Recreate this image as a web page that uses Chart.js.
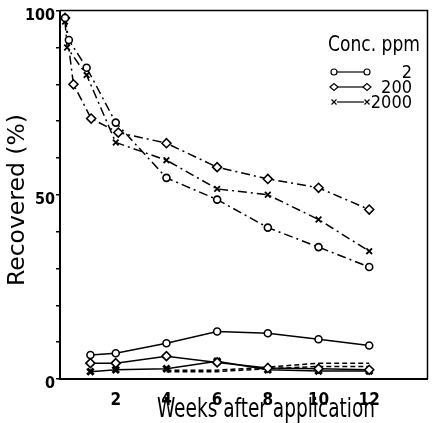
<!DOCTYPE html>
<html>
<head>
<meta charset="utf-8">
<script src="https://cdn.jsdelivr.net/npm/chart.js@4/dist/chart.umd.min.js"></script>
<style>
  html, body { margin: 0; padding: 0; background: #fff; }
  #wrap { width: 435px; height: 423px; }
</style>
</head>
<body>
<div id="wrap"><canvas id="recoveryChart"></canvas></div>
<script>
// concentrations (legend)
const concLabels = ['2', '200', '2000'];

// upper curves: extractable residue, % recovered
const upperWeeks2 = [0, 0.15, 0.85, 2, 4, 6, 8, 10, 12];
const upper2 = [98, 92, 84.5, 69.6, 54.6, 48.7, 41.1, 35.8, 30.4];
const upperWeeks200 = [0, 0.33, 1.03, 2.1, 4, 6, 8, 10, 12];
const upper200 = [98, 80, 70.7, 66.9, 64, 57.5, 54.3, 51.9, 46];
const upperWeeks2000 = [0, 0.08, 0.85, 2, 4, 6, 8, 10, 12];
const upper2000 = [97, 90, 82.5, 64.2, 59.4, 51.6, 50, 43.3, 34.7];

// lower curves
const lowerWeeks = [1, 2, 4, 6, 8, 10, 12];
const lower2 = [6.5, 7, 9.7, 12.9, 12.4, 10.8, 9.1];
const lower200 = [4.3, 4.3, 6.2, 4.5, 3, 2.8, 2.5];
const lower2000 = [2, 2.5, 2.8, 4.8, 2.5, 2.2, 2.2];
const dashedWeeks = [4, 6, 8, 10, 12];
const dashedA = [2.4, 2.4, 3.2, 4.3, 4.3];
const dashedB = [2, 2, 2.8, 3.4, 3.4];

// axis ticks
const xTickValues = [2, 4, 6, 8, 10, 12];
const yTickLabels = [0, 50, 100];

const pts = (xs, ys) => xs.map((x, i) => ({ x: x, y: ys[i] }));

const dashDot = [9, 4, 2, 4];
const narrow = '"Liberation Sans Narrow", "DejaVu Sans Condensed", sans-serif';

function series(data, style, dash, radius, width) {
    return {
        data: data,
        showLine: true,
        borderColor: '#000',
        borderWidth: 1.5,
        borderDash: dash,
        pointStyle: style,
        pointRadius: radius,
        pointBorderWidth: width,
        pointBorderColor: '#000',
        pointBackgroundColor: '#fff',
        tension: 0
    };
}

// write text squeezed/stretched to a given width
function fitText(ctx, text, x, y, width, font, rotate) {
    ctx.save();
    ctx.font = font;
    ctx.textBaseline = 'middle';
    ctx.textAlign = 'center';
    const w = ctx.measureText(text).width;
    ctx.translate(x, y);
    if (rotate) ctx.rotate(-Math.PI / 2);
    ctx.scale(width / w, 1);
    ctx.fillText(text, 0, 0);
    ctx.restore();
}

function symbol(ctx, kind, x, y) {
    ctx.beginPath();
    if (kind === 'circle') {
        ctx.arc(x, y, 3, 0, Math.PI * 2);
        ctx.fillStyle = '#fff';
        ctx.fill();
    } else if (kind === 'diamond') {
        ctx.moveTo(x - 4, y); ctx.lineTo(x, y - 3.5); ctx.lineTo(x + 4, y); ctx.lineTo(x, y + 3.5); ctx.closePath();
        ctx.fillStyle = '#fff';
        ctx.fill();
    } else {
        ctx.moveTo(x - 2.5, y - 2.5); ctx.lineTo(x + 2.5, y + 2.5);
        ctx.moveTo(x + 2.5, y - 2.5); ctx.lineTo(x - 2.5, y + 2.5);
    }
    ctx.stroke();
}

const annotate = {
    id: 'annotate',
    afterDraw(chart) {
        const ctx = chart.ctx;
        const a = chart.chartArea;
        ctx.save();
        ctx.strokeStyle = '#000';
        ctx.lineWidth = 1.5;
        ctx.beginPath();
        ctx.moveTo(a.left, a.top);
        ctx.lineTo(a.right, a.top);
        ctx.lineTo(a.right, a.bottom);
        ctx.stroke();
        ctx.fillStyle = '#000';

        fitText(ctx, 'Recovered (%)', 18, 200, 172, '23px ' + narrow, true);
        fitText(ctx, 'Weeks after application', 266, 410, 218, '26px ' + narrow, false);
        fitText(ctx, 'Conc. ppm', 374, 45, 92, '22px ' + narrow, false);

        const kinds = ['circle', 'diamond', 'cross'];
        const rows = [72, 87, 102];
        ctx.font = '18px ' + narrow;
        kinds.forEach((k, i) => {
            const y = rows[i];
            ctx.lineWidth = 1.2;
            ctx.beginPath();
            ctx.moveTo(337, y);
            ctx.lineTo(364, y);
            ctx.stroke();
            symbol(ctx, k, 334, y);
            symbol(ctx, k, 367, y);
            ctx.fillStyle = '#000';
            ctx.textAlign = 'right';
            ctx.textBaseline = 'middle';
            ctx.fillText(concLabels[i], 412, y + 1);
        });
        ctx.restore();
    }
};

const ctx = document.getElementById('recoveryChart').getContext('2d');
const chart = new Chart(ctx, {
    type: 'scatter',
    data: {
        datasets: [
            series(pts(upperWeeks2, upper2), 'circle', dashDot, 3.5, 1.6),
            series(pts(upperWeeks200, upper200), 'rectRot', dashDot, 4.5, 1.6),
            series(pts(upperWeeks2000, upper2000), 'crossRot', dashDot, 4, 1.8),
            series(pts(lowerWeeks, lower2), 'circle', [], 3.5, 1.6),
            series(pts(lowerWeeks, lower200), 'rectRot', [], 4.5, 1.6),
            series(pts(lowerWeeks, lower2000), 'crossRot', [], 4.5, 3),
            series(pts(dashedWeeks, dashedA), 'circle', [5, 3], 0, 1),
            series(pts(dashedWeeks, dashedB), 'circle', [5, 3], 0, 1)
        ]
    },
    options: {
        responsive: true,
        maintainAspectRatio: false,
        animation: false,
        layout: { padding: { top: 7, right: 3, left: 0, bottom: 0 } },
        plugins: {
            legend: { display: false },
            tooltip: { enabled: false }
        },
        scales: {
            x: {
                type: 'linear',
                min: -0.2,
                max: 14.3,
                afterBuildTicks: scale => { scale.ticks = xTickValues.map(v => ({ value: v })); },
                afterFit: scale => { scale.height = 44; },
                grid: { display: false },
                border: { display: true, color: '#000', width: 2 },
                ticks: {
                    color: '#000',
                    padding: 3,
                    maxRotation: 0,
                    font: { family: narrow, size: 17, weight: 'bold' }
                }
            },
            y: {
                min: 0,
                max: 100,
                afterFit: scale => { scale.width = 60; },
                grid: { drawOnChartArea: false, drawTicks: true, tickLength: 4, color: '#000', lineWidth: 1.5 },
                border: { display: true, color: '#000', width: 2 },
                ticks: {
                    stepSize: 10,
                    color: '#000',
                    padding: 1,
                    labelOffset: 5,
                    callback: v => (yTickLabels.includes(v) ? v : ''),
                    font: { family: narrow, size: 16, weight: 'bold' }
                }
            }
        }
    },
    plugins: [annotate]
});
</script>
</body>
</html>
